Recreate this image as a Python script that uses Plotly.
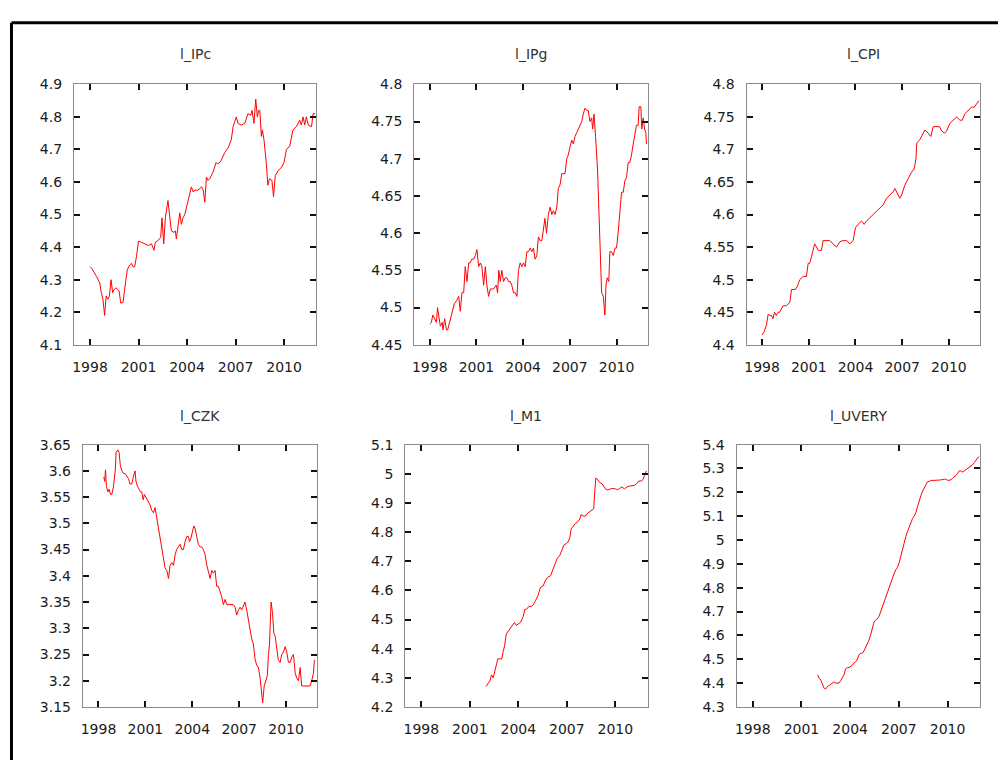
import plotly.graph_objects as go

W, H = 998, 760

# ---------------- data (decimal years) ----------------
ipc_x = [1998.0,1998.1,1998.4,1998.6,1998.7,1998.8,1998.9,1999.0,1999.1,1999.2,1999.3,1999.4,1999.5,1999.6,1999.7,1999.8,1999.9,
         2000.04,2000.14,2000.3,2000.45,2000.56,2000.66,2000.76,2000.87,2001.0,2001.18,2001.38,2001.6,2001.8,2001.96,2002.04,2002.2,
         2002.37,2002.45,2002.56,2002.66,2002.82,2002.93,2003.03,2003.2,2003.28,2003.34,2003.44,2003.55,2003.65,2003.75,2003.86,2003.96,
         2004.1,2004.27,2004.37,2004.5,2004.68,2004.9,2005.0,2005.1,2005.2,2005.3,2005.4,2005.6,2005.8,2005.9,2006.1,2006.33,2006.54,
         2006.74,2006.85,2007.05,2007.15,2007.36,2007.57,2007.77,2007.94,2008.02,2008.14,2008.25,2008.35,2008.44,2008.5,2008.6,2008.66,
         2008.76,2008.9,2009.0,2009.1,2009.25,2009.35,2009.46,2009.63,2009.84,2010.0,2010.15,2010.35,2010.55,2010.76,2010.97,2011.07,
         2011.18,2011.28,2011.38,2011.5,2011.7,2011.8,2011.92]
ipc_y = [4.34,4.335,4.31,4.29,4.26,4.24,4.19,4.25,4.24,4.25,4.30,4.26,4.27,4.275,4.27,4.265,4.228,
         4.23,4.27,4.33,4.345,4.35,4.34,4.34,4.37,4.418,4.415,4.41,4.405,4.41,4.39,4.415,4.42,
         4.43,4.49,4.41,4.49,4.543,4.50,4.45,4.445,4.45,4.425,4.46,4.505,4.47,4.49,4.50,4.52,
         4.55,4.585,4.57,4.575,4.575,4.585,4.575,4.538,4.615,4.605,4.61,4.63,4.66,4.655,4.665,4.69,4.705,
         4.73,4.77,4.80,4.78,4.775,4.78,4.81,4.805,4.82,4.78,4.855,4.80,4.82,4.82,4.74,4.76,
         4.73,4.66,4.59,4.61,4.605,4.555,4.62,4.635,4.645,4.66,4.70,4.71,4.76,4.77,4.79,4.775,
         4.80,4.775,4.80,4.775,4.77,4.81,4.81]

ipg_x = [1998.0,1998.1,1998.2,1998.3,1998.43,1998.5,1998.6,1998.68,1998.8,1998.85,1998.96,1999.07,1999.15,1999.28,1999.43,1999.58,
         1999.75,1999.86,1999.96,2000.07,2000.18,2000.28,2000.39,2000.5,2000.6,2000.7,2000.82,2000.93,2001.03,2001.14,2001.25,2001.35,
         2001.46,2001.57,2001.67,2001.78,2001.89,2002.1,2002.27,2002.36,2002.44,2002.53,2002.63,2002.74,2002.85,2002.95,2003.06,2003.17,
         2003.27,2003.38,2003.49,2003.6,2003.7,2003.81,2003.92,2004.02,2004.13,2004.24,2004.34,2004.45,2004.56,2004.66,2004.77,2004.88,
         2004.98,2005.09,2005.2,2005.3,2005.4,2005.5,2005.62,2005.73,2005.84,2005.94,2006.05,2006.16,2006.26,2006.37,2006.48,2006.58,
         2006.69,2006.8,2006.9,2007.0,2007.12,2007.22,2007.33,2007.44,2007.54,2007.65,2007.76,2007.86,2007.97,2008.08,2008.18,2008.29,
         2008.4,2008.46,2008.55,2008.65,2008.72,2008.78,2008.85,2008.91,2008.98,2009.04,2009.15,2009.25,2009.32,2009.4,2009.5,2009.57,
         2009.68,2009.79,2009.9,2010.0,2010.1,2010.2,2010.32,2010.43,2010.53,2010.64,2010.75,2010.85,2010.96,2011.07,2011.17,2011.28,
         2011.39,2011.45,2011.56,2011.62,2011.71,2011.8,2011.88,2011.92]
ipg_y = [4.478,4.48,4.49,4.485,4.48,4.50,4.485,4.475,4.48,4.47,4.485,4.47,4.47,4.48,4.49,4.505,
         4.51,4.515,4.495,4.52,4.52,4.555,4.535,4.56,4.56,4.565,4.565,4.57,4.578,4.555,4.56,4.555,
         4.53,4.555,4.53,4.515,4.525,4.525,4.53,4.52,4.55,4.535,4.55,4.535,4.54,4.54,4.535,4.535,
         4.53,4.52,4.52,4.515,4.55,4.56,4.555,4.56,4.555,4.575,4.575,4.58,4.575,4.58,4.565,4.57,
         4.595,4.59,4.59,4.605,4.62,4.60,4.625,4.635,4.625,4.63,4.625,4.635,4.66,4.665,4.68,4.68,
         4.68,4.70,4.705,4.715,4.725,4.72,4.73,4.735,4.74,4.745,4.75,4.76,4.768,4.765,4.765,4.75,
         4.755,4.74,4.76,4.73,4.71,4.685,4.64,4.59,4.57,4.52,4.515,4.49,4.53,4.54,4.535,4.575,
         4.575,4.57,4.58,4.58,4.60,4.625,4.655,4.655,4.67,4.675,4.695,4.695,4.705,4.72,4.735,4.745,
         4.745,4.77,4.77,4.74,4.755,4.74,4.735,4.72]

cpi_x = [1998.0,1998.13,1998.28,1998.39,1998.5,1998.6,1998.7,1998.8,1998.92,1999.03,1999.13,1999.35,1999.56,1999.78,1999.89,2000.0,
         2000.14,2000.27,2000.42,2000.64,2000.85,2000.96,2001.06,2001.17,2001.28,2001.38,2001.5,2001.6,2001.7,2001.81,2001.92,2002.13,
         2002.35,2002.56,2002.78,2002.99,2003.2,2003.42,2003.64,2003.85,2004.0,2004.17,2004.39,2004.56,2004.7,2004.92,2005.13,2005.35,
         2005.56,2005.78,2005.99,2006.2,2006.42,2006.53,2006.64,2006.74,2006.85,2006.96,2007.17,2007.38,2007.6,2007.77,2007.88,2007.94,
         2008.13,2008.35,2008.46,2008.67,2008.84,2008.99,2009.2,2009.4,2009.5,2009.7,2009.85,2010.06,2010.28,2010.5,2010.7,2010.86,
         2011.03,2011.24,2011.46,2011.63,2011.78,2011.93]
cpi_y = [4.415,4.42,4.43,4.447,4.445,4.445,4.44,4.45,4.445,4.45,4.45,4.46,4.46,4.465,4.485,4.485,
         4.485,4.49,4.50,4.505,4.505,4.525,4.525,4.535,4.545,4.555,4.55,4.545,4.545,4.545,4.56,4.56,
         4.56,4.555,4.55,4.558,4.56,4.56,4.555,4.56,4.58,4.585,4.59,4.585,4.59,4.595,4.60,4.605,
         4.61,4.615,4.625,4.63,4.635,4.64,4.635,4.628,4.625,4.63,4.645,4.655,4.665,4.67,4.685,4.71,
         4.715,4.725,4.73,4.725,4.72,4.735,4.735,4.735,4.73,4.725,4.728,4.74,4.745,4.75,4.745,4.745,
         4.755,4.76,4.765,4.765,4.77,4.775]

czk_x = [1998.34,1998.4,1998.45,1998.51,1998.6,1998.68,1998.77,1998.85,1998.96,1999.07,1999.13,1999.24,1999.32,1999.4,1999.5,1999.6,
         1999.7,1999.81,1999.92,2000.02,2000.13,2000.24,2000.34,2000.4,2000.5,2000.6,2000.68,2000.77,2000.86,2000.94,2001.03,2001.1,
         2001.2,2001.3,2001.4,2001.52,2001.62,2001.73,2001.84,2001.94,2002.05,2002.16,2002.26,2002.37,2002.48,2002.58,2002.69,2002.8,
         2002.9,2003.0,2003.1,2003.22,2003.33,2003.43,2003.54,2003.65,2003.75,2003.82,2003.9,2004.01,2004.1,2004.18,2004.29,2004.39,
         2004.5,2004.6,2004.71,2004.82,2004.93,2005.03,2005.14,2005.25,2005.35,2005.46,2005.56,2005.67,2005.78,2005.88,2005.99,2006.1,
         2006.2,2006.31,2006.42,2006.52,2006.63,2006.74,2006.84,2006.95,2007.06,2007.16,2007.27,2007.37,2007.48,2007.59,2007.69,2007.8,
         2007.91,2008.02,2008.12,2008.23,2008.34,2008.44,2008.5,2008.6,2008.7,2008.8,2008.87,2008.94,2009.0,2009.04,2009.13,2009.22,
         2009.3,2009.4,2009.5,2009.62,2009.72,2009.83,2009.94,2010.04,2010.15,2010.26,2010.36,2010.47,2010.58,2010.68,2010.79,2010.9,
         2011.0,2011.1,2011.2,2011.32,2011.43,2011.53,2011.64,2011.75,2011.81]
czk_y = [3.588,3.58,3.602,3.57,3.56,3.565,3.555,3.555,3.57,3.60,3.635,3.64,3.635,3.61,3.60,3.595,
         3.595,3.59,3.585,3.575,3.575,3.59,3.60,3.58,3.57,3.565,3.56,3.56,3.545,3.555,3.55,3.545,
         3.54,3.535,3.525,3.52,3.53,3.51,3.49,3.47,3.45,3.43,3.415,3.41,3.395,3.42,3.425,3.42,
         3.44,3.45,3.455,3.46,3.45,3.45,3.465,3.475,3.475,3.465,3.47,3.485,3.495,3.49,3.47,3.46,
         3.455,3.455,3.45,3.44,3.42,3.41,3.395,3.41,3.405,3.41,3.38,3.38,3.37,3.36,3.345,3.355,
         3.345,3.345,3.345,3.345,3.345,3.34,3.325,3.335,3.34,3.335,3.345,3.35,3.335,3.315,3.305,3.28,
         3.27,3.24,3.23,3.225,3.205,3.17,3.158,3.19,3.20,3.21,3.25,3.27,3.32,3.35,3.33,3.29,
         3.285,3.265,3.24,3.235,3.25,3.255,3.265,3.255,3.235,3.235,3.245,3.25,3.215,3.205,3.20,3.225,
         3.19,3.19,3.19,3.19,3.19,3.19,3.20,3.215,3.24]

m1_x = [2002.0,2002.12,2002.24,2002.34,2002.45,2002.53,2002.63,2002.73,2002.86,2002.98,2003.06,2003.15,2003.25,2003.37,2003.52,2003.66,
        2003.76,2003.87,2003.99,2004.13,2004.3,2004.4,2004.5,2004.65,2004.8,2004.92,2005.06,2005.2,2005.37,2005.53,2005.68,2005.82,
        2005.99,2006.15,2006.3,2006.4,2006.56,2006.71,2006.81,2006.95,2007.06,2007.18,2007.26,2007.39,2007.53,2007.67,2007.8,2007.88,
        2008.0,2008.15,2008.29,2008.42,2008.56,2008.66,2008.72,2008.79,2008.91,2009.03,2009.18,2009.32,2009.44,2009.59,2009.8,2010.0,
        2010.14,2010.27,2010.41,2010.56,2010.72,2010.89,2011.03,2011.17,2011.3,2011.44,2011.59,2011.71,2011.81,2011.92]
m1_y = [4.27,4.28,4.29,4.31,4.30,4.32,4.34,4.365,4.365,4.365,4.39,4.41,4.45,4.46,4.47,4.48,
        4.49,4.48,4.485,4.49,4.51,4.535,4.535,4.545,4.545,4.55,4.565,4.58,4.61,4.615,4.635,4.645,
        4.65,4.67,4.695,4.71,4.72,4.74,4.755,4.76,4.765,4.78,4.81,4.82,4.83,4.835,4.845,4.86,
        4.855,4.855,4.865,4.87,4.875,4.88,4.935,4.985,4.98,4.97,4.965,4.955,4.945,4.945,4.95,4.948,
        4.945,4.95,4.955,4.948,4.955,4.958,4.958,4.96,4.965,4.975,4.975,4.98,4.995,5.01]

uvery_x = [2002.0,2002.08,2002.18,2002.28,2002.38,2002.49,2002.59,2002.7,2002.8,2002.9,2003.0,2003.1,2003.2,2003.31,2003.41,2003.52,
           2003.62,2003.72,2003.83,2003.93,2004.03,2004.13,2004.24,2004.34,2004.44,2004.55,2004.65,2004.75,2004.85,2004.96,2005.06,2005.16,
           2005.27,2005.37,2005.47,2005.57,2005.68,2005.78,2005.88,2005.99,2006.09,2006.19,2006.3,2006.4,2006.5,2006.6,2006.71,2006.81,
           2006.91,2007.02,2007.12,2007.22,2007.33,2007.43,2007.53,2007.63,2007.74,2007.84,2007.94,2008.05,2008.15,2008.25,2008.35,2008.46,
           2008.56,2008.66,2008.77,2008.87,2008.97,2009.18,2009.38,2009.59,2009.8,2009.9,2010.0,2010.1,2010.21,2010.31,2010.42,2010.52,
           2010.62,2010.72,2010.82,2010.93,2011.03,2011.13,2011.24,2011.34,2011.44,2011.54,2011.65,2011.75,2011.85,2011.92]
uvery_y = [4.435,4.42,4.415,4.40,4.38,4.375,4.385,4.39,4.395,4.40,4.405,4.40,4.40,4.40,4.41,4.425,
           4.435,4.46,4.465,4.465,4.47,4.475,4.485,4.49,4.50,4.52,4.525,4.525,4.535,4.55,4.565,4.58,
           4.605,4.63,4.655,4.665,4.67,4.68,4.70,4.725,4.745,4.765,4.78,4.80,4.82,4.84,4.86,4.875,
           4.885,4.905,4.935,4.965,4.995,5.015,5.035,5.055,5.075,5.09,5.10,5.115,5.14,5.165,5.185,5.205,
           5.22,5.235,5.245,5.245,5.25,5.25,5.25,5.252,5.255,5.255,5.25,5.25,5.252,5.26,5.265,5.27,
           5.28,5.29,5.29,5.285,5.29,5.295,5.30,5.305,5.31,5.315,5.325,5.335,5.345,5.35]

titles = ["l_IPc", "l_IPg", "l_CPI", "l_CZK", "l_M1", "l_UVERY"]
year_ticks = [1998, 2001, 2004, 2007, 2010]
y_ticks = [
    ["4.1", "4.2", "4.3", "4.4", "4.5", "4.6", "4.7", "4.8", "4.9"],
    ["4.45", "4.5", "4.55", "4.6", "4.65", "4.7", "4.75", "4.8"],
    ["4.4", "4.45", "4.5", "4.55", "4.6", "4.65", "4.7", "4.75", "4.8"],
    ["3.15", "3.2", "3.25", "3.3", "3.35", "3.4", "3.45", "3.5", "3.55", "3.6", "3.65"],
    ["4.2", "4.3", "4.4", "4.5", "4.6", "4.7", "4.8", "4.9", "5", "5.1"],
    ["4.3", "4.4", "4.5", "4.6", "4.7", "4.8", "4.9", "5", "5.1", "5.2", "5.3", "5.4"],
]
series = [(ipc_x, ipc_y), (ipg_x, ipg_y), (cpi_x, cpi_y),
          (czk_x, czk_y), (m1_x, m1_y), (uvery_x, uvery_y)]

# ---------------- layout (pixel boxes of the plot areas) ----------------
boxes = [(72, 315, 78, 344), (413, 647, 78, 344), (746, 980, 78, 344),
         (81, 316, 446, 714), (404, 647, 446, 714), (736, 980, 446, 714)]
title_y = [47, 47, 47, 417, 417, 417]

FONT = "DejaVu Sans"
fig = go.Figure()
layout = dict(width=W, height=H, margin=dict(l=0, r=0, t=0, b=0),
              paper_bgcolor="white", plot_bgcolor="white", showlegend=False,
              annotations=[], shapes=[])

for i, ((xs, ys), (x0, x1, y0, y1)) in enumerate(zip(series, boxes)):
    n = "" if i == 0 else str(i + 1)
    fig.add_trace(go.Scatter(x=xs, y=ys, mode="lines",
                             line=dict(color="#ff0000", width=1),
                             xaxis="x" + n, yaxis="y" + n, hoverinfo="skip"))
    tv = [float(t) for t in y_ticks[i]]
    common = dict(showgrid=False, zeroline=False, showline=True, linecolor="#8c8c8c",
                  linewidth=1, mirror="allticks", ticks="inside", ticklen=6, tickwidth=1.5,
                  tickcolor="#111111", tickfont=dict(family=FONT, size=14, color="#1a1a1a"))
    layout["xaxis" + n] = dict(domain=[x0 / W, x1 / W], range=[1997, 2012],
                               tickvals=year_ticks, ticktext=[str(t) for t in year_ticks],
                               anchor="y" + n, ticklabelstandoff=9, **common)
    layout["yaxis" + n] = dict(domain=[1 - y1 / H, 1 - y0 / H], range=[tv[0], tv[-1]],
                               tickvals=tv, ticktext=y_ticks[i],
                               anchor="x" + n, ticklabelstandoff=8, **common)
    layout["annotations"].append(dict(text=titles[i], x=(x0 + x1) / 2 / W, y=1 - title_y[i] / H,
                                      xref="paper", yref="paper", showarrow=False,
                                      xanchor="center", yanchor="middle",
                                      font=dict(family=FONT, size=14, color="#333333")))

# outer frame (top and left edges visible)
layout["shapes"].append(dict(type="line", xref="paper", yref="paper",
                             x0=9.5 / W, x1=1.02, y0=1 - 15 / H, y1=1 - 15 / H,
                             line=dict(color="black", width=3)))
layout["shapes"].append(dict(type="line", xref="paper", yref="paper",
                             x0=9.5 / W, x1=9.5 / W, y0=1 - 15 / H, y1=-0.02,
                             line=dict(color="black", width=3)))

fig.update_layout(**layout)
fig.write_html("out.html")
